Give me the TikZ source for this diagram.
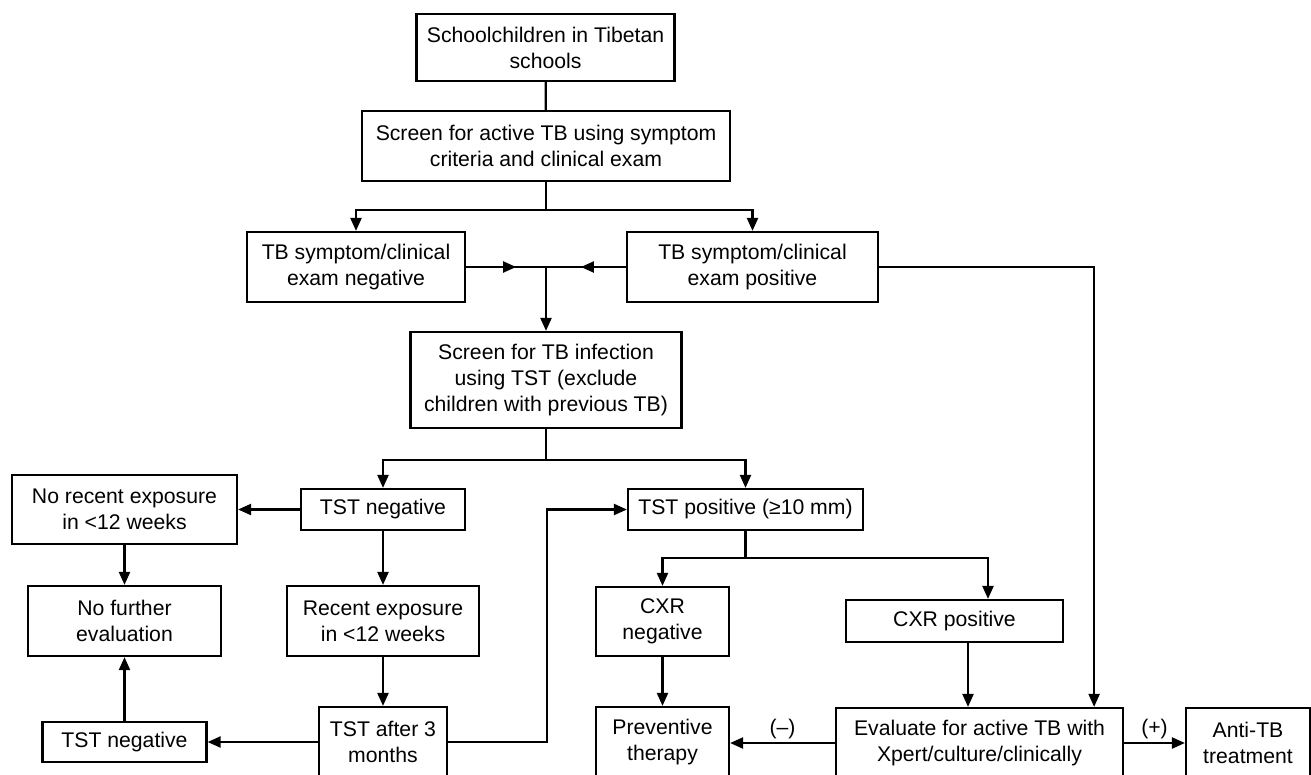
\documentclass[tikz,border=0pt]{standalone}
\usepackage{fontspec}
\setmainfont{Liberation Sans}
\usetikzlibrary{arrows.meta,decorations.markings,calc}

\begin{document}
\begin{tikzpicture}[x=1pt,y=-1pt,
		font=\fontsize{21.2}{26}\selectfont,
		line width=2.2pt,
		>={Triangle[length=13pt,width=11pt]},
		box/.style={draw,align=center,inner sep=2pt},
		midarrow/.style={decoration={markings,
			mark=at position #1 with {\arrow{Triangle[length=13pt,width=11pt]}}},
			postaction={decorate}}]

  \useasboundingbox (0,0) rectangle (1311,774);
  \clip (0,0) rectangle (1311,774);

  % screening
  \node[box,minimum width=258pt,minimum height=67pt] (school) at (545.5,47.5) {Schoolchildren in Tibetan\\schools};
  \node[box,minimum width=368pt,minimum height=70pt] (screenA) at (546,146) {Screen for active TB using symptom\\criteria and clinical exam};
  \node[box,minimum width=218pt,minimum height=70pt] (sympneg) at (356,267) {TB symptom/clinical\\exam negative};
  \node[box,minimum width=251pt,minimum height=70pt] (symppos) at (752.5,267) {TB symptom/clinical\\exam positive};
  \node[box,minimum width=271pt,minimum height=96pt] (screenI) at (546,380) {Screen for TB infection\\using TST (exclude\\children with previous TB)};

  % TST branch
  \node[box,minimum width=164pt,minimum height=41pt] (tstneg) at (383,509.5) {TST negative};
  \node[box,minimum width=235pt,minimum height=41pt] (tstpos) at (745.5,509.5) {TST positive (≥10 mm)};
  \node[box,minimum width=225pt,minimum height=69pt] (norecent) at (124.5,509.5) {No recent exposure\\in <12 weeks};
  \node[box,minimum width=193pt,minimum height=70pt] (nofurther) at (124.5,621) {No further\\evaluation};
  \node[box,minimum width=192pt,minimum height=70pt] (recent) at (383,621) {Recent exposure\\in <12 weeks};
  \node[box,minimum width=164pt,minimum height=40pt] (tstnegB) at (124.5,742) {TST negative};
  \node[box,minimum width=128pt,minimum height=70pt] (tstlater) at (383,742) {TST after 3\\months};

  % CXR branch
  \node[box,minimum width=133pt,minimum height=69pt] (cxrneg) at (662.5,621.5) {CXR\\negative};
  \node[box,minimum width=217pt,minimum height=42pt] (cxrpos) at (954.5,621) {CXR positive};
  \node[box,minimum width=133pt,minimum height=70pt] (prevent) at (662.5,742) {Preventive\\therapy};
  \node[box,minimum width=287pt,minimum height=70pt] (evaluate) at (979.5,743) {Evaluate for active TB with\\Xpert/culture/clinically};
  \node[box,minimum width=124pt,minimum height=70pt] (antitb) at (1248,743) {Anti-TB\\treatment};

  \coordinate (splitA) at ($(screenA.south)+(0,28)$);
  \coordinate (merge) at (screenA.south |- sympneg.east);
  \coordinate (splitI) at ($(screenI.south)+(0,31)$);
  \coordinate (splitP) at ($(tstpos.south)+(0,27)$);
  \coordinate (bend) at ($(tstlater.east)+(99,0)$);
  \coordinate (cxrin) at ($(cxrpos.north)+(33.5,0)$);
  \coordinate (cxrout) at ($(cxrpos.south)+(13.5,0)$);
  \coordinate (corner) at ($(symppos.east)+(215,0)$);

  \draw (school) -- (screenA);
  \draw (screenA) -- (splitA);
  \draw[->] (splitA) -| (sympneg.north);
  \draw[->] (splitA) -| (symppos.north);
  \draw[midarrow=50pt] (sympneg.east) -- (merge);
  \draw[midarrow=45pt] (symppos.west) -- (merge);
  \draw[->] (merge) -- (screenI.north);
  \draw (screenI.south) -- (splitI);
  \draw[->] (splitI) -| (tstneg.north);
  \draw[->] (splitI) -| (tstpos.north);

  \draw[->] (tstneg.west) -- (norecent.east);
  \draw[->] (tstneg) -- (recent);
  \draw[->] (recent) -- (tstlater);
  \draw[->] (norecent) -- (nofurther);
  \draw[->] (tstnegB) -- (nofurther);
  \draw[->] (tstlater.west) -- (tstnegB.east);
  \draw[->] (tstlater.east) -- (bend) |- (tstpos.west);

  \draw (tstpos.south) -- (splitP);
  \draw[->] (splitP) -| (cxrneg.north);
  \draw[->] (splitP) -| (cxrin);
  \draw[->] (cxrneg) -- (prevent);
  \draw[->] (cxrout) -- (cxrout |- evaluate.north);
  \draw[->] (symppos.east) -- (corner) -- (corner |- evaluate.north);
  \draw[->] (evaluate.west) -- node[above] {(–)} (evaluate.west -| prevent.east);
  \draw[->] (evaluate.east) -- node[above] {(+)} (evaluate.east -| antitb.west);

\end{tikzpicture}
\end{document}
